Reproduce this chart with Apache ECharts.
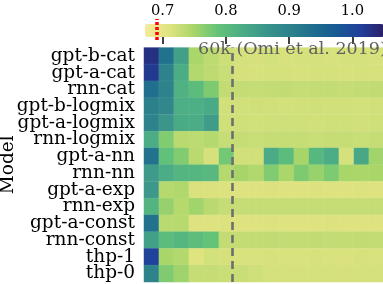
<!DOCTYPE html>
<html><head><meta charset="utf-8">
<script src="https://cdn.jsdelivr.net/npm/echarts@6/dist/echarts.min.js"></script>
<style>html,body{margin:0;padding:0;background:#fff}#c{width:383px;height:284px}</style>
</head><body><div id="c"></div>
<script>
const models = ['gpt-b-cat','gpt-a-cat','rnn-cat','gpt-b-logmix','gpt-a-logmix','rnn-logmix','gpt-a-nn','rnn-nn','gpt-a-exp','rnn-exp','gpt-a-const','rnn-const','thp-1','thp-0'];
const columns = ['1','2','3','4','5','6','7','8','9','10','11','12','13','14','15','16'];
const gptBCat    = [1.03,0.93,0.845,0.746,0.735,0.724,0.718,0.717,0.719,0.716,0.718,0.717,0.716,0.718,0.717,0.716];
const gptACat    = [1.02,0.90,0.825,0.741,0.734,0.727,0.717,0.716,0.718,0.717,0.716,0.717,0.718,0.716,0.717,0.716];
const rnnCat     = [0.935,0.90,0.818,0.80,0.772,0.731,0.730,0.729,0.730,0.731,0.729,0.730,0.730,0.729,0.730,0.731];
const gptBLogmix = [0.905,0.89,0.822,0.822,0.83,0.72,0.72,0.721,0.72,0.719,0.72,0.721,0.72,0.72,0.719,0.72];
const gptALogmix = [0.90,0.862,0.83,0.825,0.852,0.721,0.721,0.72,0.721,0.722,0.721,0.72,0.721,0.721,0.72,0.721];
const rnnLogmix  = [0.826,0.77,0.736,0.735,0.74,0.728,0.728,0.727,0.728,0.729,0.728,0.727,0.728,0.728,0.727,0.728];
const gptANn     = [0.93,0.793,0.77,0.736,0.717,0.778,0.72,0.72,0.828,0.80,0.749,0.808,0.825,0.718,0.832,0.752];
const rnnNn      = [0.855,0.825,0.812,0.81,0.806,0.74,0.749,0.742,0.77,0.746,0.772,0.757,0.773,0.748,0.746,0.747];
const gptAExp    = [0.858,0.739,0.743,0.715,0.714,0.713,0.712,0.712,0.713,0.712,0.712,0.713,0.712,0.712,0.713,0.712];
const rnnExp     = [0.813,0.758,0.739,0.752,0.736,0.728,0.728,0.729,0.728,0.728,0.729,0.728,0.728,0.729,0.728,0.728];
const gptAConst  = [0.93,0.737,0.738,0.712,0.712,0.713,0.712,0.712,0.713,0.712,0.712,0.712,0.713,0.712,0.712,0.712];
const rnnConst   = [0.845,0.80,0.81,0.797,0.787,0.731,0.73,0.73,0.731,0.73,0.73,0.731,0.73,0.73,0.731,0.73];
const thp1       = [1.01,0.748,0.741,0.711,0.719,0.717,0.715,0.715,0.716,0.715,0.715,0.716,0.715,0.715,0.716,0.715];
const thp0       = [0.898,0.771,0.753,0.729,0.729,0.726,0.726,0.722,0.718,0.718,0.717,0.718,0.718,0.717,0.718,0.718];
const rows = [gptBCat,gptACat,rnnCat,gptBLogmix,gptALogmix,rnnLogmix,gptANn,rnnNn,gptAExp,rnnExp,gptAConst,rnnConst,thp1,thp0];
const colorbarTicks = [0.7,0.8,0.9,1.0];
const cbMin = 0.672, cbMax = 1.05;
const redMarker = 0.688;        // red dotted marker on colorbar
const refColumnPos = 5.87;      // position of "60k" reference along columns (0..16)
const refText = '60k (Omi et al. 2019)';

const data = [];
rows.forEach((r, yi) => r.forEach((v, xi) => data.push([xi, yi, v])));

const serif = 'DejaVu Serif';
const chart = echarts.init(document.getElementById('c'), null, {renderer: 'canvas'});
const gridBase = {outerBoundsMode: 'none', containLabel: false};
chart.setOption({
  animation: false,
  grid: [
    Object.assign({left: 144, top: 47.6, width: 240, bottom: 2}, gridBase),
    Object.assign({left: 145, top: 24, width: 239, height: 13}, gridBase),
    Object.assign({left: 145, top: 19, width: 239, height: 21}, gridBase)
  ],
  visualMap: {
    type: 'continuous', seriesIndex: 0, min: cbMin, max: cbMax,
    orient: 'horizontal', left: 145, top: 24, itemWidth: 13, itemHeight: 239,
    padding: 0, calculable: false, showLabel: false, text: null, hoverLink: false,
    inRange: {color: ['#f6ea9b','#e1e480','#a9d669','#66c476','#4cae85','#3b968a','#2e838b','#1f6e8e','#175a93','#20409a','#2c1e68']}
  },
  xAxis: [
    {type: 'category', gridIndex: 0, data: columns, position: 'bottom',
     axisLine: {show: false}, axisLabel: {show: false}, splitLine: {show: false},
     axisTick: {show: true, inside: true, alignWithLabel: true, length: 4.5, interval: 0, lineStyle: {color: '#000', width: 1.3}}},
    {type: 'category', gridIndex: 0, data: columns, position: 'bottom',
     axisLine: {show: false}, axisLabel: {show: false}, splitLine: {show: false},
     axisTick: {show: true, inside: true, alignWithLabel: true, length: 9, interval: (i) => i % 5 === 0, lineStyle: {color: '#000', width: 1.3}}},
    {type: 'value', gridIndex: 0, min: 0, max: 16, show: false},
    {type: 'value', gridIndex: 1, min: cbMin, max: cbMax, position: 'top',
     axisLine: {show: false}, splitLine: {show: false},
     axisTick: {show: true, inside: true, length: 7, lineStyle: {color: '#000', width: 1.5}, customValues: colorbarTicks},
     axisLabel: {show: true, margin: 5, fontFamily: serif, fontSize: 14.7, color: '#000', customValues: colorbarTicks, formatter: (v) => v.toFixed(1)}},
    {type: 'value', gridIndex: 2, min: cbMin, max: cbMax, show: false}
  ],
  yAxis: [
    {type: 'category', gridIndex: 0, data: models, inverse: true, position: 'left',
     name: 'Model', nameLocation: 'middle', nameGap: 126, nameRotate: 90, nameMoveOverlap: false,
     nameTextStyle: {fontFamily: serif, fontSize: 18.5, color: '#000'},
     axisLine: {show: false}, splitLine: {show: false},
     axisTick: {show: true, inside: true, alignWithLabel: true, length: 8, lineStyle: {color: '#000', width: 1.3}},
     axisLabel: {show: true, margin: 9, interval: 0, fontFamily: serif, fontSize: 18.5, color: '#000'}},
    {type: 'category', gridIndex: 0, data: models, inverse: true, position: 'right',
     axisLine: {show: false}, splitLine: {show: false}, axisLabel: {show: false},
     axisTick: {show: true, inside: true, alignWithLabel: true, length: 8, lineStyle: {color: '#000', width: 1.3}}},
    {type: 'value', gridIndex: 0, min: 0, max: 1, show: false},
    {type: 'value', gridIndex: 1, min: 0, max: 1, show: false},
    {type: 'value', gridIndex: 2, min: 0, max: 1, show: false}
  ],
  series: [
    {type: 'heatmap', xAxisIndex: 0, yAxisIndex: 0, data: data, z: 1,
     itemStyle: {borderColor: 'rgba(255,255,255,0.12)', borderWidth: 0.5},
     emphasis: {disabled: true}},
    {type: 'line', xAxisIndex: 2, yAxisIndex: 2, data: [], z: 5, silent: true,
     markLine: {silent: true, symbol: 'none', label: {show: false},
       lineStyle: {color: '#6e6e6e', width: 2.6, type: [8, 5]},
       data: [{xAxis: refColumnPos}]}},
    {type: 'line', xAxisIndex: 4, yAxisIndex: 4, data: [], z: 10, silent: true,
     markLine: {silent: true, symbol: 'none', label: {show: false},
       lineStyle: {color: '#ff0000', width: 3.5, type: [3, 2]},
       data: [{xAxis: redMarker}]}}
  ],
  graphic: [
    {type: 'text', z: 100, left: 198, top: 40,
     style: {text: refText, font: '17.5px "DejaVu Serif"', fill: '#5f5f5f'}}
  ]
});
</script></body></html>
